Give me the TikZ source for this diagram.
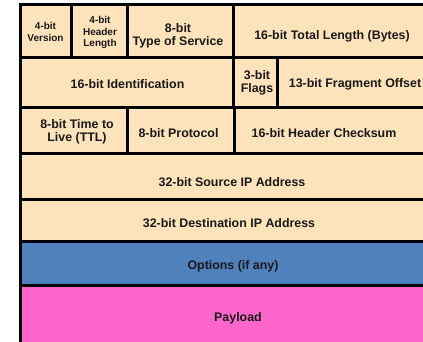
\documentclass[tikz,border=0pt]{standalone}
\usepackage{fontspec}
\setmainfont{Liberation Sans}
\definecolor{headerfill}{HTML}{FDE3BB}
\definecolor{optionsfill}{HTML}{4F81BD}
\definecolor{payloadfill}{HTML}{FF66CC}
\tikzset{
    gridline/.style={draw=black,line width=3pt},
    fieldtext/.style={font=\bfseries\fontsize{12.4}{13}\selectfont,
        align=center,inner sep=0pt,text=black!90},
    smalltext/.style={fieldtext,font=\bfseries\fontsize{10}{11.8}\selectfont}
}
\newcommand{\RowLine}[1]{%
  \draw [gridline] (20,#1) -- (446,#1);
}
\newcommand{\ColLine}[3]{%
  \draw [gridline] (#1,#2) -- (#1,#3);
}

\begin{document}
\begin{tikzpicture}[x=1pt,y=-1pt]
\useasboundingbox (0,0) rectangle (423,342);
\fill [white] (0,0) rectangle (423,342);
% field backgrounds
\fill [headerfill] (20,5) rectangle (446,241);
\fill [optionsfill] (20,241) rectangle (446,285);
\fill [payloadfill] (20,285) rectangle (446,350);
% row and column lines
\RowLine{58}
\RowLine{108}
\RowLine{154}
\RowLine{199}
\RowLine{241}
\RowLine{285}
\ColLine{71}{5}{58}
\ColLine{127}{5}{58}
\ColLine{233}{5}{58}
\ColLine{233}{58}{108}
\ColLine{277}{58}{108}
\ColLine{127}{108}{154}
\ColLine{234}{108}{154}
\draw [gridline] (20,5) rectangle (446,350);
% field texts
\node [smalltext] (version) at (45.5,32) {4-bit\\Version};
\node [smalltext] (ihl) at (100,32.5) {4-bit\\Header\\Length};
\node [fieldtext] (tos) at (178,35.5) {8-bit\\Type of Service};
\node [fieldtext] (totlen) at (332,36) {16-bit Total Length (Bytes)};
\node [fieldtext] (ident) at (127.5,84) {16-bit Identification};
\node [fieldtext] (flags) at (257,83) {3-bit\\Flags};
\node [fieldtext] (fragoff) at (355,84) {13-bit Fragment Offset};
\node [fieldtext] (ttl) at (77,131.5) {8-bit Time to\\Live (TTL)};
\node [fieldtext] (proto) at (178.5,133) {8-bit Protocol};
\node [fieldtext] (chksum) at (324,133) {16-bit Header Checksum};
\node [fieldtext] (srcip) at (232,182) {32-bit Source IP Address};
\node [fieldtext] (dstip) at (229,223) {32-bit Destination IP Address};
\node [fieldtext] (options) at (233,266) {Options (if any)};
\node [fieldtext] (payload) at (238,318) {Payload};
\end{tikzpicture}
\end{document}
